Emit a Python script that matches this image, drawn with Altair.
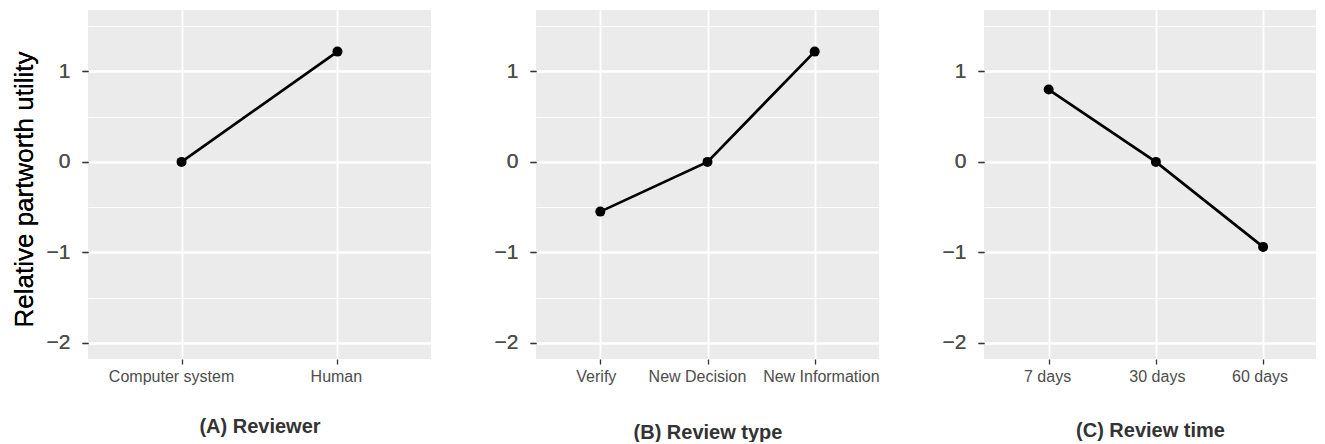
import altair as alt
import pandas as pd

# ---- data ----
reviewer_levels = ["Computer system", "Human"]
reviewer_utility = [0.0, 1.22]

type_levels = ["Verify", "New Decision", "New Information"]
type_utility = [-0.55, 0.0, 1.22]

time_levels = ["7 days", "30 days", "60 days"]
time_utility = [0.80, 0.0, -0.94]

panel_titles = ["(A) Reviewer", "(B) Review type", "(C) Review time"]
y_title = "Relative partworth utility"
y_major = [-2, -1, 0, 1]
y_minor = [-1.5, -0.5, 0.5, 1.5]
y_domain = [-2.18, 1.68]

# label nudges (styling only) to mimic the reference's label placement
label_nudge = {
    "Computer system": -10.5, "Human": -1.6,
    "Verify": -4.5, "New Decision": -10.5, "New Information": 6.2,
    "7 days": -1.6, "30 days": 1.0, "60 days": -3.5,
}

FONT = "Liberation Sans"
H = 349


def nudge_for(levels):
    conds = [
        {"test": "datum.value === '%s'" % lv, "value": label_nudge[lv]}
        for lv in levels
    ]
    return {"condition": conds, "value": 0}


def panel(levels, values, title, width, title_pad, show_ytitle, pad=0.6, align=0.5):
    df = pd.DataFrame({"level": levels, "utility": values})
    x = alt.X(
        "level:N",
        sort=levels,
        scale=alt.Scale(type="point", padding=pad, align=align),
        axis=alt.Axis(
            title=title,
            labelAngle=0,
            labelFontSize=16,
            labelColor="#4D4D4D",
            labelPadding=4,
            labelOverlap=False,
            labelOffset=nudge_for(levels),
            tickSize=5,
            tickColor="#333333",
            tickWidth=1.3,
            domain=False,
            grid=True,
            gridColor="white",
            gridWidth=1.8,
            titleFontSize=20,
            titleFontWeight="bold",
            titleColor="#333333",
            titlePadding=title_pad,
        ),
    )
    y_scale = alt.Scale(domain=y_domain, nice=False, zero=False)
    major_axis_kwargs = dict(
        values=y_major,
        format="d",
        orient="left",
        labelFontSize=21,
        labelColor="#4D4D4D",
        labelPadding=12,
        tickSize=6,
        tickColor="#333333",
        tickWidth=1.3,
        domain=False,
        grid=True,
        gridColor="white",
        gridWidth=1.8,
        titleFontSize=26,
        titleFontWeight="normal",
        titleColor="black",
        titlePadding=9,
    )
    if show_ytitle:
        major_axis = alt.Axis(title=y_title, titleY=179, **major_axis_kwargs)
    else:
        major_axis = alt.Axis(title=None, **major_axis_kwargs)

    base = alt.Chart(df)
    minor = base.mark_point(opacity=0).encode(
        x=x,
        y=alt.Y(
            "utility:Q",
            scale=y_scale,
            axis=alt.Axis(
                values=y_minor,
                orient="left",
                labels=False,
                ticks=False,
                domain=False,
                grid=True,
                gridColor="white",
                gridWidth=0.9,
                title=None,
            ),
        ),
    )
    line = base.mark_line(color="black", strokeWidth=2.7).encode(
        x=x, y=alt.Y("utility:Q", scale=y_scale, axis=major_axis)
    )
    pts = base.mark_circle(color="black", size=100, opacity=1).encode(
        x=x, y=alt.Y("utility:Q", scale=y_scale, axis=major_axis)
    )
    return (
        alt.layer(minor, line, pts)
        .resolve_axis(y="independent")
        .properties(width=width, height=H)
    )


a = panel(reviewer_levels, reviewer_utility, panel_titles[0], 343, 32, True)
b = panel(type_levels, type_utility, panel_titles[1], 343, 38, False)
c = panel(time_levels, time_utility, panel_titles[2], 332, 36, False,
          pad=0.5485, align=0.55)

chart = (
    alt.hconcat(a, b, c, spacing=105, bounds="flush")
    .properties(padding={"left": 3, "top": 2, "right": 0, "bottom": 0})
    .configure(font=FONT)
    .configure_view(fill="#EBEBEB", strokeWidth=0, stroke=None)
    .configure_axis(labelFont=FONT, titleFont=FONT)
)

chart.save("out.html", embed_options={"renderer": "svg", "actions": False})
